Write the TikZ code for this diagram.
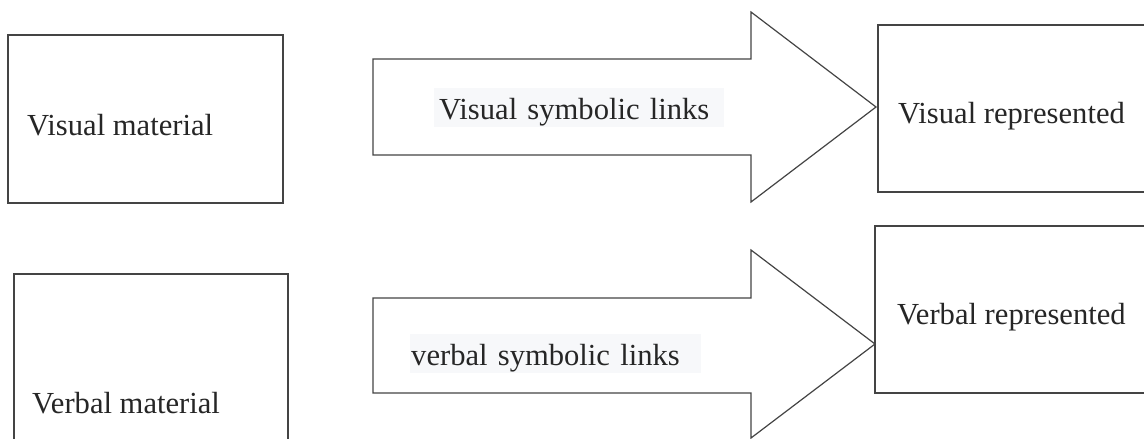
\documentclass[tikz,border=0pt]{standalone}
\usepackage{fontspec}
\setmainfont{Liberation Serif}
\definecolor{linegray}{HTML}{444444}
\definecolor{txtgray}{HTML}{262626}
\definecolor{lblbg}{HTML}{F7F8FA}
\tikzset{
  box/.style={draw=linegray, line width=1.3pt, inner sep=0pt, fill=none},
  txt/.style={anchor=base west, inner sep=0pt, text=txtgray, font=\fontsize{30.6}{36}\selectfont},
  lbl/.style={txt, fill=lblbg, text height=31pt, text depth=8pt, align=left},
  blockarrow/.style={draw=linegray, line width=1.2pt, line join=miter, fill=white}
}
\begin{document}
\begin{tikzpicture}[x=1pt, y=-1pt]
\useasboundingbox (0,0) rectangle (1144,439);
\clip (0,0) rectangle (1144,439);
\fill[white] (0,0) rectangle (1144,439);
% boxes
\node[box, minimum width=275pt, minimum height=168pt] (b1) at (145.5,119) {};
\node[box, minimum width=274pt, minimum height=176pt] (b2) at (151,362) {};
\node[box, minimum width=272pt, minimum height=167pt] (b3) at (1014,108.5) {};
\node[box, minimum width=275pt, minimum height=167pt] (b4) at (1012.5,309.5) {};
% texts
\node[txt] (t1) at (27,135) {Visual material};
\node[txt] (t2) at (32,413) {Verbal material};
\node[txt] (t3) at (898,123) {Visual represented};
\node[txt] (t4) at (897,324) {Verbal represented};
% block arrows
\draw[blockarrow] (373,59) -- (751,59) -- (751,12) -- (876,107) -- (751,202) -- (751,155) -- (373,155) -- cycle;
\draw[blockarrow] (373,298) -- (751,298) -- (751,250) -- (875,344) -- (751,438) -- (751,393) -- (373,393) -- cycle;
% arrow labels
\node[lbl, text width=290pt] (l1) at (434,119) {\hspace*{5pt}Visual symbolic links};
\node[lbl, text width=291pt] (l2) at (410,365) {\hspace*{1pt}verbal symbolic links};
\end{tikzpicture}
\end{document}
